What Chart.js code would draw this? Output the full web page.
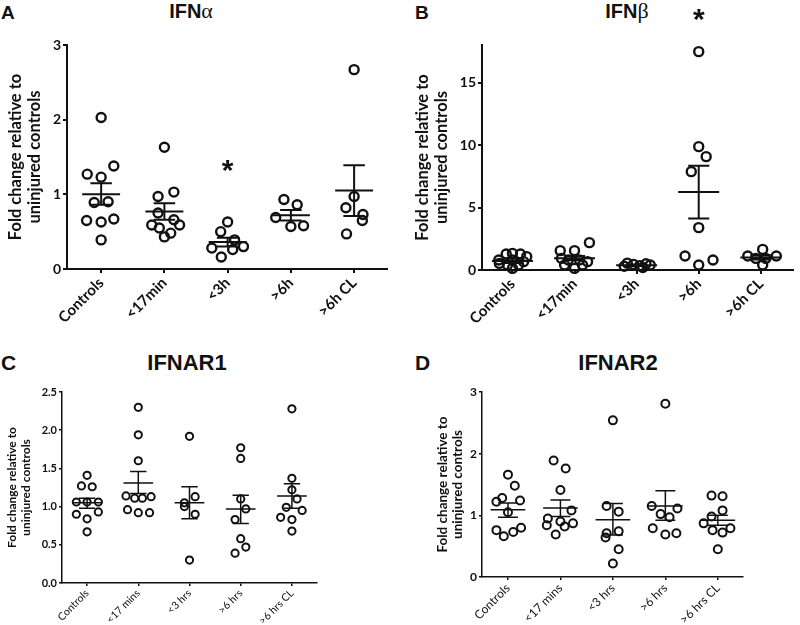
<!DOCTYPE html>
<html>
<head>
<meta charset="utf-8">
<script src="https://cdn.jsdelivr.net/npm/chart.js@4.4.0/dist/chart.umd.min.js"></script>
<style>
  body { margin: 0; background: #fff; width: 800px; height: 625px; position: relative; overflow: hidden; font-family: 'Liberation Sans', Arial, sans-serif; }
  canvas { position: absolute; }
  .lbl { position: absolute; font-weight: bold; color: #111; line-height: 1; white-space: nowrap; }
  .ttl { transform: translateX(-50%); }
  .gr { font-family: 'Liberation Serif', 'DejaVu Serif', serif; font-weight: normal; font-size: 1.1em; }
</style>
</head>
<body>
<div class="lbl" style="left:1px;top:3px;font-size:19px">A</div>
<div class="lbl ttl" style="left:191px;top:0px;font-size:20px">IFN<span class="gr">α</span></div>
<div class="lbl" style="left:415px;top:3px;font-size:19px">B</div>
<div class="lbl ttl" style="left:627px;top:0px;font-size:20px">IFN<span class="gr">β</span></div>
<div class="lbl" style="left:1px;top:352px;font-size:21px">C</div>
<div class="lbl ttl" style="left:187px;top:352px;font-size:22px">IFNAR1</div>
<div class="lbl" style="left:415px;top:352px;font-size:21px">D</div>
<div class="lbl ttl" style="left:618px;top:352px;font-size:22px">IFNAR2</div>

<canvas id="cA" width="400" height="325" style="left:0;top:0"></canvas>
<canvas id="cB" width="400" height="325" style="left:400px;top:0"></canvas>
<canvas id="cC" width="400" height="305" style="left:0;top:320px"></canvas>
<canvas id="cD" width="400" height="305" style="left:400px;top:320px"></canvas>

<script>
// group names
const catsTop = ['Controls', '<17min', '<3h', '>6h', '>6h CL'];
const catsBottom = ['Controls', '<17 mins', '<3 hrs', '>6 hrs', '>6 hrs CL'];
const yTitle = ['Fold change relative to', 'uninjured controls'];

// A - IFN alpha
const ifnaValues = [
  [2.03, 1.38, 1.27, 1.23, 0.90, 0.89, 0.67, 0.65, 0.63, 0.39],
  [1.63, 1.03, 0.97, 0.75, 0.66, 0.59, 0.59, 0.55, 0.48, 0.43],
  [0.63, 0.50, 0.39, 0.28, 0.30, 0.26, 0.16],
  [0.93, 0.86, 0.69, 0.57, 0.58],
  [2.67, 0.97, 0.82, 0.73, 0.65, 0.47]
];
const ifnaJitter = [
  [0, 0.2, -0.22, 0, 0.11, -0.11, 0.2, -0.23, 0, 0],
  [0, 0.15, -0.1, -0.1, 0.15, -0.2, 0.24, -0.08, 0.1, 0],
  [0, -0.11, 0.11, -0.25, 0.25, 0.08, -0.1],
  [-0.11, 0.1, -0.24, 0, 0.2],
  [0, 0, -0.13, 0.14, 0.13, -0.12]
];
const ifnaMean = [1.00, 0.77, 0.36, 0.72, 1.05];
const ifnaSemHi = [1.15, 0.88, 0.42, 0.79, 1.39];
const ifnaSemLo = [0.86, 0.66, 0.30, 0.65, 0.71];
const ifnaStarGroup = [3];
const ifnaStarY = [1.42];

// B - IFN beta
const ifnbValues = [
  [0.8, 1.28, 1.33, 1.28, 1.07, 0.53, 0.4, 0.13, 0.4, 0.67, 0.8],
  [1.55, 1.55, 2.19, 0.93, 0.8, 0.8, 0.67, 0.4, 0.13, 0.4],
  [0.55, 0.5, 0.45, 0.4, 0.35, 0.3, 0.2],
  [17.47, 9.87, 9.07, 7.87, 3.39, 1.12, 0.4, 0.8],
  [1.12, 1.65, 1.12, 0.93, 0.93, 0.4]
];
const ifnbJitter = [
  [-0.22, -0.1, 0, 0.13, 0.23, -0.21, -0.08, 0, 0.1, 0.18, 0],
  [-0.23, 0, 0.24, -0.21, -0.1, 0.08, 0.21, -0.16, 0, 0.13],
  [-0.15, 0.15, -0.05, 0.22, 0.05, -0.2, 0.1],
  [0, 0, 0.12, -0.12, 0, -0.22, 0, 0.23],
  [-0.21, 0.03, 0.25, -0.08, 0.08, 0.03]
];
const ifnbMean = [0.72, 0.94, 0.38, 6.24, 1.00];
const ifnbSemHi = [0.9, 1.12, 0.45, 8.35, 1.18];
const ifnbSemLo = [0.56, 0.78, 0.32, 4.13, 0.84];
const ifnbStarGroup = [4];
const ifnbStarY = [20.6];

// C - IFNAR1
const ifnar1Values = [
  [1.41, 1.27, 1.26, 1.06, 1.06, 1.06, 0.90, 0.93, 0.84, 0.67],
  [2.30, 1.94, 1.60, 1.14, 1.11, 1.11, 1.13, 0.96, 0.92, 0.92],
  [1.92, 1.05, 1.00, 1.13, 0.90, 0.30],
  [1.77, 1.63, 1.10, 0.97, 0.83, 0.58, 0.47, 0.39],
  [2.28, 1.37, 1.22, 1.10, 0.99, 0.95, 0.86, 0.83, 0.68]
];
const ifnar1Jitter = [
  [0, -0.11, 0.1, -0.21, 0, 0.22, -0.21, 0.22, 0, 0],
  [0, 0, 0, -0.24, -0.07, 0.08, 0.25, -0.21, 0, 0.22],
  [0, -0.1, -0.1, 0.11, 0.11, 0],
  [0, 0, 0, 0.1, -0.11, 0, 0.1, -0.11],
  [0, 0, 0, 0.1, -0.11, 0.2, -0.22, 0, 0]
];
const ifnar1Mean = [1.05, 1.31, 1.05, 0.97, 1.14];
const ifnar1SemHi = [1.11, 1.46, 1.26, 1.15, 1.30];
const ifnar1SemLo = [0.98, 1.17, 0.84, 0.78, 0.98];

// D - IFNAR2
const ifnar2Values = [
  [1.66, 1.48, 1.28, 1.24, 1.22, 1.05, 0.80, 0.76, 0.73, 0.66],
  [1.89, 1.76, 1.41, 1.08, 0.95, 0.90, 0.87, 0.84, 0.82, 0.69],
  [2.54, 1.15, 1.06, 0.74, 0.71, 0.64, 0.45, 0.22],
  [2.81, 1.15, 1.11, 1.02, 0.97, 0.79, 0.71, 0.69],
  [1.32, 1.31, 1.08, 0.98, 0.87, 0.79, 0.76, 0.72, 0.45]
];
const ifnar2Jitter = [
  [0, 0.13, -0.11, 0.23, -0.22, 0, 0.25, -0.22, 0.1, -0.08],
  [-0.13, 0.1, 0, 0.21, -0.24, 0, 0.24, -0.26, 0.08, -0.09],
  [0, -0.12, 0.11, 0.11, -0.12, -0.14, 0.11, 0],
  [0, -0.26, 0.23, -0.09, 0.08, -0.24, 0.21, 0],
  [-0.12, 0.09, 0.09, -0.12, -0.27, 0.24, -0.1, 0.09, 0]
];
const ifnar2Mean = [1.09, 1.12, 0.93, 1.15, 0.92];
const ifnar2SemHi = [1.20, 1.25, 1.19, 1.40, 1.00];
const ifnar2SemLo = [0.97, 0.98, 0.68, 0.92, 0.84];

const INK = '#111';

// mean line, SEM whiskers and significance stars
function meanSemPlugin(o) {
  return {
    id: 'meanSem',
    afterDatasetsDraw(chart) {
      const { ctx, scales: { x, y } } = chart;
      ctx.save();
      ctx.strokeStyle = INK;
      ctx.lineWidth = o.lw;
      o.mean.forEach((m, i) => {
        const c = i + 1;
        const xc = x.getPixelForValue(c);
        const yh = y.getPixelForValue(o.hi[i]);
        const yl = y.getPixelForValue(o.lo[i]);
        const ym = y.getPixelForValue(m);
        ctx.beginPath();
        ctx.moveTo(x.getPixelForValue(c - o.mw), ym);
        ctx.lineTo(x.getPixelForValue(c + o.mw), ym);
        ctx.moveTo(x.getPixelForValue(c - o.cw), yh);
        ctx.lineTo(x.getPixelForValue(c + o.cw), yh);
        ctx.moveTo(x.getPixelForValue(c - o.cw), yl);
        ctx.lineTo(x.getPixelForValue(c + o.cw), yl);
        ctx.moveTo(xc, yh);
        ctx.lineTo(xc, yl);
        ctx.stroke();
      });
      if (o.starGroup) {
        ctx.fillStyle = INK;
        ctx.font = 'bold 30px "Liberation Sans", Arial, sans-serif';
        ctx.textAlign = 'center';
        ctx.textBaseline = 'alphabetic';
        o.starGroup.forEach((g, k) => {
          ctx.fillText('*', x.getPixelForValue(g), y.getPixelForValue(o.starY[k]) + 30 * 0.56);
        });
      }
      ctx.restore();
    }
  };
}

function makePanel(id, o) {
  const pts = o.values.flatMap((g, i) => g.map((v, j) => ({ x: i + 1 + o.jitter[i][j], y: v })));
  const gridOpts = { display: true, drawOnChartArea: false, drawTicks: true, tickLength: o.tl, color: INK, lineWidth: o.lw };
  const borderOpts = { display: true, color: INK, width: o.lw };
  new Chart(document.getElementById(id), {
    type: 'scatter',
    data: {
      datasets: [{
        data: pts,
        pointRadius: o.r,
        pointHoverRadius: o.r,
        pointBorderWidth: o.bw,
        pointBorderColor: INK,
        pointBackgroundColor: 'rgba(0,0,0,0)',
        clip: false
      }]
    },
    options: {
      responsive: false,
      animation: false,
      events: [],
      layout: { padding: { left: o.padL, right: o.padR, top: o.padT, bottom: 0 } },
      plugins: { legend: { display: false }, tooltip: { enabled: false } },
      scales: {
        x: {
          type: 'linear',
          min: o.xMin,
          max: o.xMax,
          afterBuildTicks: s => { s.ticks = o.cats.map((c, i) => ({ value: i + 1 })); },
          afterFit: s => { s.height = o.xH; },
          ticks: {
            autoSkip: false, minRotation: 45, maxRotation: 45, padding: 1, color: INK,
            font: { family: 'Lato', size: o.xFont, weight: o.xWeight },
            callback: (v, i) => o.cats[i]
          },
          grid: gridOpts,
          border: borderOpts
        },
        y: {
          min: 0,
          max: o.yMax,
          afterBuildTicks: s => { s.ticks = o.yTicks.map(v => ({ value: v })); },
          afterFit: s => { s.width = o.yW; },
          ticks: {
            padding: 2, color: INK,
            font: { family: 'Lato', size: o.yFont, weight: 'bold' },
            callback: v => v.toFixed(o.dec)
          },
          grid: gridOpts,
          border: borderOpts,
          title: {
            display: true, text: yTitle, color: INK, padding: 0,
            font: { family: 'Lato', size: o.titleFont, weight: 'bold', lineHeight: 1.1 }
          }
        }
      }
    },
    plugins: [meanSemPlugin(o)]
  });
}

makePanel('cA', {
  cats: catsTop, values: ifnaValues, jitter: ifnaJitter,
  mean: ifnaMean, hi: ifnaSemHi, lo: ifnaSemLo, starGroup: ifnaStarGroup, starY: ifnaStarY,
  yMax: 3, yTicks: [0, 1, 2, 3], dec: 0, xMin: 0.46, xMax: 5.52,
  padL: 7, padR: 13, padT: 45, yW: 60, xH: 56,
  r: 4.5, bw: 2.4, lw: 2, tl: 4, mw: 0.3, cw: 0.17,
  xFont: 15, xWeight: 'bold', yFont: 14, titleFont: 16.5
});

makePanel('cB', {
  cats: catsTop, values: ifnbValues, jitter: ifnbJitter,
  mean: ifnbMean, hi: ifnbSemHi, lo: ifnbSemLo, starGroup: ifnbStarGroup, starY: ifnbStarY,
  yMax: 18, yTicks: [0, 5, 10, 15], dec: 0, xMin: 0.51, xMax: 5.52,
  padL: 14, padR: 0, padT: 45, yW: 68, xH: 55,
  r: 4.5, bw: 2.4, lw: 2, tl: 4, mw: 0.33, cw: 0.17,
  xFont: 15, xWeight: 'bold', yFont: 14, titleFont: 16.5
});

makePanel('cC', {
  cats: catsBottom, values: ifnar1Values, jitter: ifnar1Jitter,
  mean: ifnar1Mean, hi: ifnar1SemHi, lo: ifnar1SemLo,
  yMax: 2.5, yTicks: [0, 0.5, 1, 1.5, 2, 2.5], dec: 1, xMin: 0.51, xMax: 5.49,
  padL: 6, padR: 83, padT: 72, yW: 56, xH: 42,
  r: 3.6, bw: 2, lw: 1.5, tl: 3, mw: 0.29, cw: 0.16,
  xFont: 10.5, xWeight: 'normal', yFont: 11, titleFont: 12
});

makePanel('cD', {
  cats: catsBottom, values: ifnar2Values, jitter: ifnar2Jitter,
  mean: ifnar2Mean, hi: ifnar2SemHi, lo: ifnar2SemLo,
  yMax: 3, yTicks: [0, 1, 2, 3], dec: 0, xMin: 0.505, xMax: 5.48,
  padL: 35, padR: 57, padT: 72, yW: 47, xH: 48,
  r: 4, bw: 2, lw: 1.5, tl: 3, mw: 0.33, cw: 0.19,
  xFont: 12, xWeight: 'normal', yFont: 12, titleFont: 13.5
});
</script>
</body>
</html>
